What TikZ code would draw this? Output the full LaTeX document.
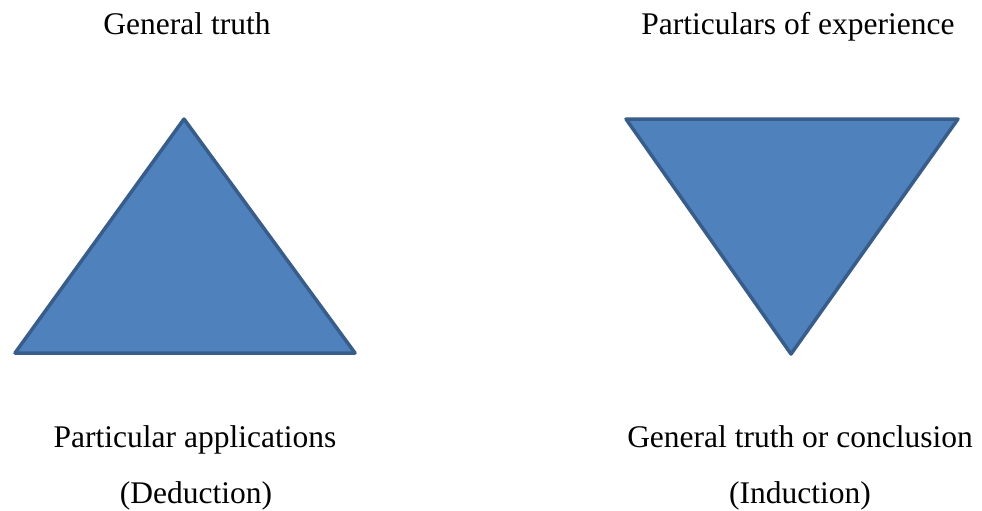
\documentclass[tikz,border=0pt]{standalone}
\usepackage{fontspec}
\setmainfont{Liberation Serif}
\definecolor{trifill}{HTML}{4F81BD}
\definecolor{triline}{HTML}{385D8A}
\begin{document}
\begin{tikzpicture}[x=1pt,y=-1pt,
  tri/.style={fill=trifill,draw=triline,line width=3.5pt,line join=round},
  lbl/.style={font=\fontsize{31.5}{36}\selectfont,inner sep=0pt,anchor=base}]
\useasboundingbox (0,0) rectangle (982,511);
\fill[white] (0,0) rectangle (982,511);
\draw[tri] (184,119) -- (355,353) -- (15,353) -- cycle;
\draw[tri] (626,119) -- (958,119) -- (791,354) -- cycle;
\node[lbl] (gt) at (187,35) {General truth};
\node[lbl] (pe) at (798,35) {Particulars of experience};
\node[lbl] (pa) at (195,447) {Particular applications};
\node[lbl] (de) at (196,503) {(Deduction)};
\node[lbl] (gc) at (800,447) {General truth or conclusion};
\node[lbl] (in) at (800,503) {(Induction)};
\end{tikzpicture}
\end{document}
